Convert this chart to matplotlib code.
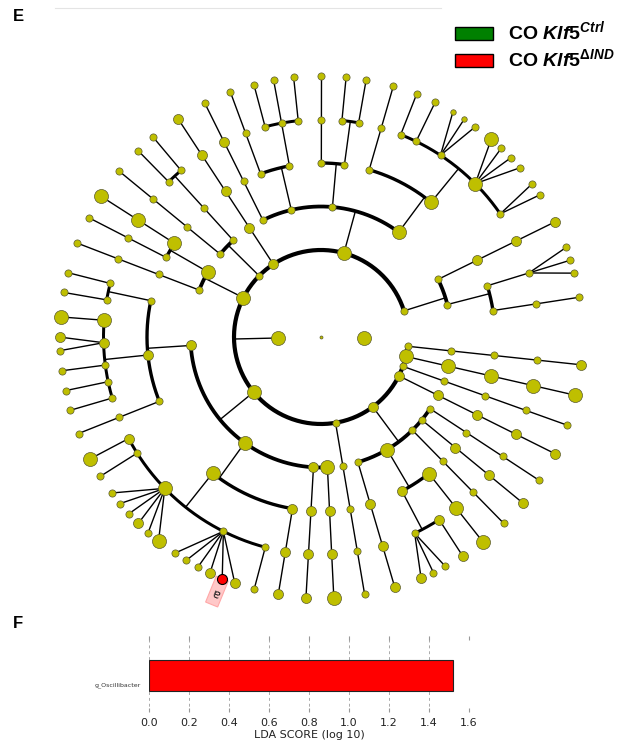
import numpy as np
import matplotlib
matplotlib.use('Agg')
import matplotlib.pyplot as plt
from matplotlib.patches import Rectangle, Polygon
from matplotlib.transforms import ScaledTranslation

plt.rcParams['mathtext.fontset'] = 'custom'
plt.rcParams['mathtext.rm'] = 'Liberation Sans:bold'
plt.rcParams['mathtext.it'] = 'Liberation Sans:italic:bold'
plt.rcParams['mathtext.bf'] = 'Liberation Sans:bold'

# taxonomy tree: indentation = depth (kingdom .. genus), each number = node size class,
# "a-b-c" = chain of single children, "g:x,y" = node g with leaf children x, y; "*" = biomarker
TREE = """
4
 2
  2
   2-2-2
   2-2:2,2,2
  2-3-3-3
 4
  4
   4
    2:2,2
    4:2,2,2,4
    2:2,1,1
    2-2
    2-2
   2-2-2
  2
   2
    2-2
    2-2
   2-2-2
  2
   2
    2-2
    2-2
    2-2
   2-2-2
  2-2-3-2
 3-3-3-3-3
 2
  2-2
    2-2
    2-2
  2-2-2-2
 4
  4
   4-4-4
   2-2-2
  2-2-2-2
 4
  3
   2
    2-2
    2-2
   3
    4-4
    3:3,2
    2-2
    2-2
    2-2
   2-2-2
  4
   4
    3-4
    2-2
    4:2,2,2,3,2,4
    2:2,2,2,3,3*,3
    2-2
   3-3-3
  3-3-3-3
  4-3-3-4
 2-2-2-2-2
 3
  2-3-3-3
  4
   3
    2:3,2,2
    3-3
   4-4-4
  2-2-2-2
  2-3-3-3
  2-2-2-2
 3-3-3-3-3
 2-2-2-2-2
 4-4-4-4-4
 2-2-2-2-3
4
"""
levels = ['kingdom', 'phylum', 'class', 'order', 'family', 'genus']
biomarker_letters = ['a']
group_labels = ['CO $\\mathit{Klf5}^{\\mathit{Ctrl}}$', 'CO $\\mathit{Klf5}^{\\mathit{ΔIND}}$']
group_colors = ['#008000', '#ff0000']

lda_taxa = ['g_Oscillibacter']
lda_scores = [1.52]
lda_ticks = [0.0, 0.2, 0.4, 0.6, 0.8, 1.0, 1.2, 1.4, 1.6]

# layout settings
W, H = 637, 748
CX, CY, STEP = 321, 337, 43.5
START = 8.75
GAP = {1: 1.62, 2: 2.3, 3: 2.07, 4: 1.83, 5: 1.5, 6: 1.0}
WRAP = 3.4
NODE_PX = {0: 3.0, 1: 5.5, 2: 7.2, 3: 10.0, 4: 14.0}
ARC_LW = {2: 3.0, 3: 2.7, 4: 2.4, 5: 2.15}

# parse the tree
nodes = []


def add(tok, depth, parent):
    n = {'size': int(tok.rstrip('*')), 'hl': tok.endswith('*'), 'depth': depth,
         'parent': parent, 'kids': []}
    if parent is not None:
        parent['kids'].append(n)
    nodes.append(n)
    return n


root = add('0', 0, None)
last = {0: root}
for line in TREE.strip('\n').splitlines():
    depth = len(line) - len(line.lstrip()) + 1
    chain, _, leaf_part = line.strip().partition(':')
    for tok in chain.split('-'):
        last[depth] = add(tok, depth, last[depth - 1])
        depth += 1
    for tok in filter(None, leaf_part.split(',')):
        add(tok, depth, last[depth - 1])


def dfs(n, out):
    if not n['kids'] and n is not root:
        out.append(n)
    for k in n['kids']:
        dfs(k, out)


def lineage(n):
    path = []
    while n['parent'] is not None:
        path.append(n)
        n = n['parent']
    return path[::-1]


leaves = []
dfs(root, leaves)
pos = [0.0]
for a, b in zip(leaves[:-1], leaves[1:]):
    la, lb = lineage(a), lineage(b)
    d = 1
    while d <= min(len(la), len(lb)) and la[d - 1] is lb[d - 1]:
        d += 1
    pos.append(pos[-1] + GAP[d])
total = pos[-1] + WRAP
for n, p in zip(leaves, pos):
    n['theta'] = START + p * 360.0 / total


def span(n):
    if not n['kids']:
        return n['theta'], n['theta']
    lo, hi = zip(*(span(k) for k in n['kids']))
    n['theta'] = (min(lo) + max(hi)) / 2
    return min(lo), max(hi)


span(root)


def xy(r, th):
    t = np.radians(th)
    return CX + r * np.cos(t), CY - r * np.sin(t)


for n in nodes:
    n['xy'] = xy(n['depth'] * STEP, n['theta'])

fig = plt.figure(figsize=(W / 100, H / 100), dpi=100)
ax = fig.add_axes([0, 0, 1, 1])
ax.set_xlim(0, W)
ax.set_ylim(H, 0)
ax.axis('off')

# edges
for n in nodes:
    if not n['kids'] or n['depth'] == 0:
        continue
    kd = n['kids'][0]['depth']
    if kd == len(levels):
        for k in n['kids']:
            ax.plot([n['xy'][0], k['xy'][0]], [n['xy'][1], k['xy'][1]],
                    color='black', lw=1.0, zorder=1)
    else:
        r1 = kd * STEP
        x1, y1 = xy(r1, n['theta'])
        ax.plot([n['xy'][0], x1], [n['xy'][1], y1], color='black', lw=1.0, zorder=1)
        if len(n['kids']) > 1:
            ths = np.linspace(n['kids'][0]['theta'], n['kids'][-1]['theta'], 200)
            ax_, ay_ = xy(r1, ths)
            ax.plot(ax_, ay_, color='black', lw=ARC_LW[kd], zorder=1,
                    solid_capstyle='butt')

# biomarker label boxes
letter_i = 0
for n in nodes:
    if n['hl']:
        th = np.radians(n['theta'])
        u = np.array([np.cos(th), -np.sin(th)])
        v = np.array([np.sin(th), np.cos(th)])
        c = np.array([CX, CY])
        r0 = n['depth'] * STEP
        pts = [c + r0 * u - 6.5 * v, c + r0 * u + 6.5 * v,
               c + (r0 + 28) * u + 6.5 * v, c + (r0 + 28) * u - 6.5 * v]
        ax.add_patch(Polygon(pts, closed=True, facecolor='#ffc8c8', edgecolor='#ffa8a8',
                             lw=0.8, zorder=2))
        tx, ty = xy(r0 + 15, n['theta'])
        ax.text(tx, ty, biomarker_letters[letter_i], rotation=n['theta'] - 90,
                rotation_mode='anchor', ha='center', va='center', fontsize=9,
                color='#222222', zorder=4)
        letter_i += 1

# nodes
for n in nodes:
    d = NODE_PX[n['size']] * 0.72
    fc = group_colors[1] if n['hl'] else '#bfbf00'
    ec = 'black' if n['hl'] else '#5a5a30'
    ax.scatter([n['xy'][0]], [n['xy'][1]], s=d ** 2, c=fc, edgecolors=ec,
               linewidths=0.8 if n['hl'] else 0.5, zorder=3)

# panel letters, top rule, legend
ax.plot([55, 441], [8, 8], color='#e4e4e4', lw=0.8)
ax.text(13, 21, 'E', fontsize=12, fontweight='bold', family='Liberation Sans')
ax.text(13, 628, 'F', fontsize=12, fontweight='bold', family='Liberation Sans')
for i, (lab, col) in enumerate(zip(group_labels, group_colors)):
    y0 = 27 + i * 27
    ax.add_patch(Rectangle((455, y0), 38, 13, facecolor=col, edgecolor='black', lw=1.0))
    ax.text(508, y0 + 12.5, lab, fontsize=14, fontweight='bold',
            family='Liberation Sans', va='baseline', ha='left')

# LDA bar chart
axb = fig.add_axes([149 / W, 1 - 712 / H, 320 / W, 76 / H])
axb.barh(range(len(lda_scores)), lda_scores, height=0.82, color='red',
         edgecolor='#222222', lw=0.8)
axb.set_xlim(0, 1.6)
axb.set_ylim(-0.96, 1.04)
axb.set_xticks(lda_ticks)
axb.set_xticklabels(['%.1f' % t for t in lda_ticks])
axb.set_yticks(range(len(lda_taxa)))
axb.set_yticklabels(lda_taxa, fontsize=4.5, color='#333333')
axb.tick_params(axis='y', length=0, pad=5.5)
axb.tick_params(axis='x', top=True, bottom=True, direction='in', length=3,
                color='#999999', labelsize=8, pad=4, labelcolor='#222222')
for lab in axb.get_yticklabels():
    lab.set_transform(lab.get_transform() + ScaledTranslation(0, -9 / 100, fig.dpi_scale_trans))
axb.grid(axis='x', color='#aaaaaa', linestyle=(0, (3, 3)), lw=0.7)
axb.set_axisbelow(True)
for s in axb.spines.values():
    s.set_visible(False)
axb.set_xlabel('LDA SCORE (log 10)', fontsize=8, labelpad=2, color='#222222')

fig.savefig('out.png', dpi=100)
